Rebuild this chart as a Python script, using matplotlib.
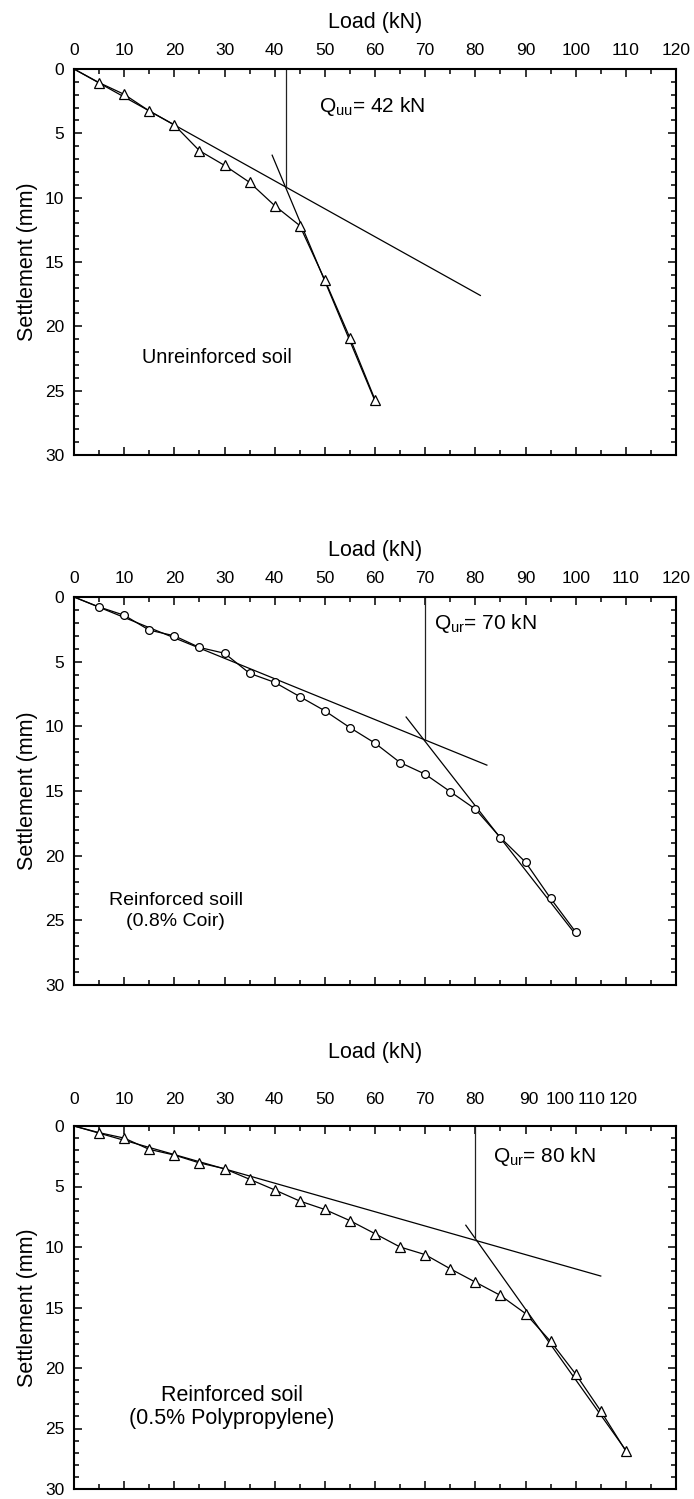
import matplotlib
matplotlib.use('Agg')
import matplotlib.pyplot as plt
from matplotlib.ticker import MultipleLocator, FixedLocator, FixedFormatter

plt.rcParams['font.family'] = ['Liberation Sans', 'DejaVu Sans']
plt.rcParams['mathtext.fontset'] = 'custom'
plt.rcParams['mathtext.rm'] = 'Liberation Sans'
plt.rcParams['mathtext.it'] = 'Liberation Sans'
plt.rcParams['mathtext.default'] = 'regular'

# ---------------- data ----------------
load_unr = [0, 5, 10, 15, 20, 25, 30, 35, 40, 45, 50, 55, 60]
settle_unr = [0, 1.06, 1.97, 3.26, 4.35, 6.35, 7.49, 8.81, 10.62, 12.17, 16.4, 20.9, 25.7]

load_coir = [0, 5, 10, 15, 20, 25, 30, 35, 40, 45, 50, 55, 60, 65, 70, 75, 80, 85, 90, 95, 100]
settle_coir = [0, 0.77, 1.41, 2.56, 3.0, 3.9, 4.35, 5.9, 6.6, 7.7, 8.8, 10.1, 11.3, 12.8,
               13.7, 15.05, 16.4, 18.6, 20.5, 23.3, 25.9]

load_pp = [0, 5, 10, 15, 20, 25, 30, 35, 40, 45, 50, 55, 60, 65, 70, 75, 80, 85, 90, 95,
           100, 105, 110]
settle_pp = [0, 0.55, 1.0, 1.93, 2.4, 3.05, 3.53, 4.4, 5.28, 6.2, 6.9, 7.82, 8.9, 10.0,
             10.63, 11.8, 12.9, 14.0, 15.5, 17.8, 20.5, 23.55, 26.86]

# tangent lines (load, settlement) and ultimate loads
tan1_unr_x, tan1_unr_y = [0, 81], [0, 17.6]
tan2_unr_x, tan2_unr_y = [39.5, 60], [6.7, 25.8]
qu_unr, qu_unr_s = 42.2, 9.2

tan1_coir_x, tan1_coir_y = [0, 82.3], [0, 13.0]
tan2_coir_x, tan2_coir_y = [66.2, 99.6], [9.28, 25.9]
qu_coir, qu_coir_s = 70, 11.05

tan1_pp_x, tan1_pp_y = [0, 105], [0, 12.4]
tan2_pp_x, tan2_pp_y = [78.1, 110], [8.2, 26.8]
qu_pp, qu_pp_s = 80, 9.45

x_ticks = [0, 10, 20, 30, 40, 50, 60, 70, 80, 90, 100, 110, 120]
x_tick_labels = ['0', '10', '20', '30', '40', '50', '60', '70', '80', '90', '100', '110', '120']
y_ticks = [0, 5, 10, 15, 20, 25, 30]
y_tick_labels = ['0', '5', '10', '15', '20', '25', '30']

# third panel: labels 90..120 are typed closer together in the original
p3_shifted_labels = ['90', '100', '110', '120']
p3_shifted_pos = [90.7, 96.9, 103.2, 109.4]

W, H = 694, 1499
fig = plt.figure(figsize=(W / 100, H / 100), dpi=100)


def make_axes(top_px, bottom_px):
    left, right = 74, 676
    return fig.add_axes([left / W, 1 - bottom_px / H, (right - left) / W, (bottom_px - top_px) / H])


def style(ax, shifted=False, title_pad=11, xpad=8):
    ax.set_xlim(0, 120)
    ax.set_ylim(30, 0)
    for sp in ax.spines.values():
        sp.set_linewidth(1.5)
    ax.xaxis.tick_top()
    ax.xaxis.set_label_position('top')
    ax.set_xticks(x_ticks)
    if shifted:
        ax.set_xticklabels(x_tick_labels[:9] + [''] * 4)
    else:
        ax.set_xticklabels(x_tick_labels)
    ax.xaxis.set_minor_locator(MultipleLocator(5))
    ax.set_yticks(y_ticks)
    ax.set_yticklabels(y_tick_labels)
    ax.yaxis.set_minor_locator(MultipleLocator(1))
    ax.tick_params(which='both', direction='in', top=True, bottom=True, left=True, right=True,
                   labelsize=12.5, width=1.1)
    ax.tick_params(which='major', length=6)
    ax.tick_params(which='minor', length=3.5)
    ax.tick_params(axis='x', pad=xpad)
    ax.tick_params(axis='y', pad=7)
    ax.set_xlabel('Load (kN)', fontsize=15.5, labelpad=title_pad)
    ax.set_ylabel('Settlement (mm)', fontsize=15.5, labelpad=5)
    if shifted:
        sec = ax.secondary_xaxis('top')
        sec.xaxis.set_major_locator(FixedLocator(p3_shifted_pos))
        sec.xaxis.set_major_formatter(FixedFormatter(p3_shifted_labels))
        sec.tick_params(length=0, labelsize=12.5, pad=xpad)
        sec.spines['top'].set_visible(False)


def tangents(ax, t1x, t1y, t2x, t2y, qx, qs):
    ax.plot(t1x, t1y, color='black', lw=0.9)
    ax.plot(t2x, t2y, color='black', lw=0.9)
    ax.plot([qx, qx], [0, qs], color='#222222', lw=0.9)


# ---- panel 1 ----
ax1 = make_axes(69, 455)
style(ax1)
tangents(ax1, tan1_unr_x, tan1_unr_y, tan2_unr_x, tan2_unr_y, qu_unr, qu_unr_s)
ax1.plot(load_unr, settle_unr, color='black', lw=0.9, marker='^', markersize=7.2,
         markerfacecolor='white', markeredgecolor='black', markeredgewidth=0.9,
         markevery=list(range(1, len(load_unr))))
ax1.text(48.8, 2.9, 'Q$_{uu}$= 42 kN', fontsize=15, va='center', ha='left')
ax1.text(13.5, 22.4, 'Unreinforced soil', fontsize=14.3, va='center', ha='left')

# ---- panel 2 ----
ax2 = make_axes(597, 985)
style(ax2)
tangents(ax2, tan1_coir_x, tan1_coir_y, tan2_coir_x, tan2_coir_y, qu_coir, qu_coir_s)
ax2.plot(load_coir, settle_coir, color='black', lw=0.9, marker='o', markersize=5.6,
         markerfacecolor='white', markeredgecolor='black', markeredgewidth=0.9,
         markevery=list(range(1, len(load_coir))))
ax2.text(71.7, 2.05, 'Q$_{ur}$= 70 kN', fontsize=15, va='center', ha='left')
ax2.text(20.3, 24.3, 'Reinforced soill\n(0.8% Coir)', fontsize=14, va='center', ha='center',
         multialignment='center', linespacing=1.3)

# ---- panel 3 ----
ax3 = make_axes(1126, 1489)
style(ax3, shifted=True, title_pad=24, xpad=14)
tangents(ax3, tan1_pp_x, tan1_pp_y, tan2_pp_x, tan2_pp_y, qu_pp, qu_pp_s)
ax3.plot(load_pp, settle_pp, color='black', lw=0.9, marker='^', markersize=7.2,
         markerfacecolor='white', markeredgecolor='black', markeredgewidth=0.9,
         markevery=list(range(1, len(load_pp))))
ax3.text(83.5, 2.5, 'Q$_{ur}$= 80 kN', fontsize=15, va='center', ha='left')
ax3.text(31.5, 23.2, 'Reinforced soil\n(0.5% Polypropylene)', fontsize=15.5, va='center',
         ha='center', multialignment='center', linespacing=1.15)

fig.savefig('out.png', dpi=100)
